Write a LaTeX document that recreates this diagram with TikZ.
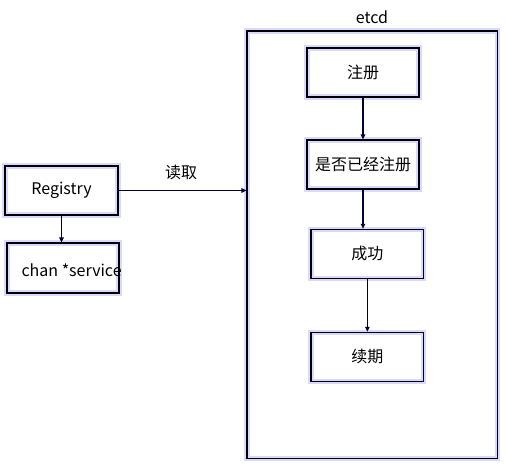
\documentclass[tikz,border=0pt]{standalone}
\usepackage{fontspec}
\setmainfont{Noto Sans CJK SC}
\usetikzlibrary{arrows.meta}
\begin{document}
\begin{tikzpicture}[x=1pt,y=-1pt,
  glowbox/.style={draw=black,line width=1.1pt,
    preaction={draw=blue!35!cyan!40,line width=3.6pt},
    preaction={draw=blue!15,line width=5.5pt},
    inner sep=0pt, font=\fontsize{16}{19}\selectfont},
  conn/.style={draw=black!80!blue,line width=1.2pt,
    -{Triangle[length=5pt,width=4.5pt]}},
  lbl/.style={font=\fontsize{16}{19}\selectfont}]
\useasboundingbox (0,0) rectangle (506,469);
% etcd container
\node[glowbox,minimum width=250.7pt,minimum height=427.3pt] (etcd) at (372.35,244.65) {};
\node[lbl] (etcdlbl) at (372,17) {etcd};
% inner boxes
\node[glowbox,minimum width=112pt,minimum height=49pt] (reg) at (363,72.5) {注册};
\node[glowbox,minimum width=112pt,minimum height=49pt] (chk) at (363,164.5) {是否已经注册};
\node[glowbox,minimum width=112.7pt,minimum height=49pt] (ok) at (367.35,253.8) {成功};
\node[glowbox,minimum width=112.7pt,minimum height=49pt] (renew) at (367.35,356.8) {续期};
% left boxes
\node[glowbox,minimum width=113pt,minimum height=49pt] (registry) at (61.5,190.5) {Registry};
\node[glowbox,minimum width=112pt,minimum height=50pt] (chan) at (63,268) {};
\node[lbl,anchor=west] (chantxt) at (18,270) {chan *service};
% connectors
\draw[conn] (registry.east) -- (etcd.west|-registry.east);
\node[lbl] (read) at (181,172) {读取};
\draw[conn] (registry.south) -- (chan.north-|registry.south);
\draw[conn] (reg.south) -- (chk.north);
\draw[conn] (chk.south) -- (ok.north-|chk.south);
\draw[conn] (ok.south) -- (renew.north);
\end{tikzpicture}
\end{document}
